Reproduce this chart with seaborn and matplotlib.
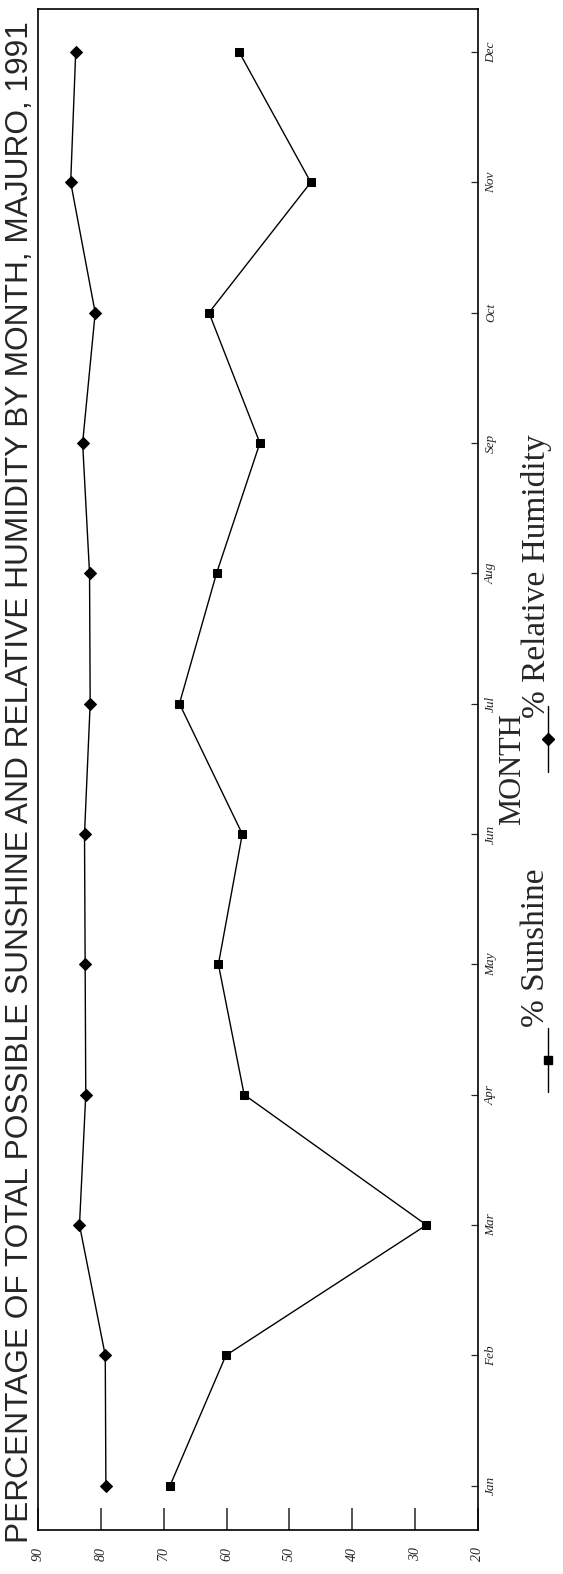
import numpy as np
import pandas as pd
import matplotlib
matplotlib.use('Agg')
import matplotlib.pyplot as plt
from matplotlib.lines import Line2D
import seaborn as sns

# data
months = ['Jan', 'Feb', 'Mar', 'Apr', 'May', 'Jun', 'Jul', 'Aug', 'Sep', 'Oct', 'Nov', 'Dec']
sunshine = [69.0, 60.1, 28.2, 57.2, 61.3, 57.5, 67.5, 61.6, 54.7, 62.8, 46.6, 58.0]
humidity = [79.2, 79.3, 83.4, 82.4, 82.5, 82.6, 81.7, 81.8, 82.9, 80.9, 84.8, 84.0]
pct_ticks = [90, 80, 70, 60, 50, 40, 30, 20]

title = 'PERCENTAGE OF TOTAL POSSIBLE SUNSHINE AND RELATIVE HUMIDITY BY MONTH, MAJURO, 1991'
lab_sun = '% Sunshine'
lab_hum = '% Relative Humidity'

df = pd.DataFrame({
    'pos': list(range(len(months))) * 2,
    'value': sunshine + humidity,
    'series': [lab_sun] * len(months) + [lab_hum] * len(months),
})

sns.set_style('ticks')
plt.rcParams['font.family'] = ['Liberation Serif', 'DejaVu Serif']

W, H = 563, 1574
fig = plt.figure(figsize=(W / 100, H / 100), dpi=100)
ax = fig.add_axes([38 / W, 44 / H, (478 - 38) / W, (1530 - 9) / H])

sns.lineplot(data=df, x='value', y='pos', hue='series', style='series',
             palette={lab_sun: 'black', lab_hum: 'black'},
             markers={lab_sun: 's', lab_hum: 'D'}, dashes=False,
             orient='y', linewidth=1.0, markersize=6,
             markeredgecolor='black', legend=False, ax=ax)

ax.set_xlim(90, 20)
ax.set_ylim(-0.34, 11.33)

# percent axis (bottom)
ax.set_xticks(pct_ticks)
ax.set_xticklabels([str(t) for t in pct_ticks], rotation=90,
                   fontstyle='italic', fontsize=10)
ax.tick_params(axis='x', direction='in', length=16, width=1.1, pad=12)
ax.set_xlabel('')

# month axis (right)
ax.yaxis.tick_right()
ax.set_yticks(range(len(months)))
ax.set_yticklabels(months, rotation=90, fontstyle='italic', fontsize=9.5, va='center')
ax.tick_params(axis='y', direction='in', length=5, width=0.9, pad=5)
ax.yaxis.set_label_position('right')
ax.set_ylabel('MONTH', rotation=90, fontsize=22, labelpad=1)

for s in ax.spines.values():
    s.set_linewidth(1.2)
    s.set_color('black')

# title runs along the left edge
fig.text(20 / W, 1 - 1543 / H, title, rotation=90, ha='center', va='bottom',
         fontsize=22.8, family=['Liberation Sans', 'DejaVu Sans'])

# hand-made rotated legend
def legend_item(y0, y1, marker, label, text_start):
    xs = 548 / W
    fig.add_artist(Line2D([xs, xs], [1 - y0 / H, 1 - y1 / H], transform=fig.transFigure,
                          color='black', lw=1.0))
    fig.add_artist(Line2D([xs], [1 - (y0 + y1) / 2 / H], transform=fig.transFigure,
                          color='black', marker=marker, markersize=6, lw=0))
    fig.text(536 / W, 1 - text_start / H, label, rotation=90, ha='center', va='bottom',
             fontsize=24)

legend_item(1028, 1092, 's', lab_sun, 1027)
legend_item(706, 772, 'D', lab_hum, 718)

fig.savefig('out.png', dpi=100)
